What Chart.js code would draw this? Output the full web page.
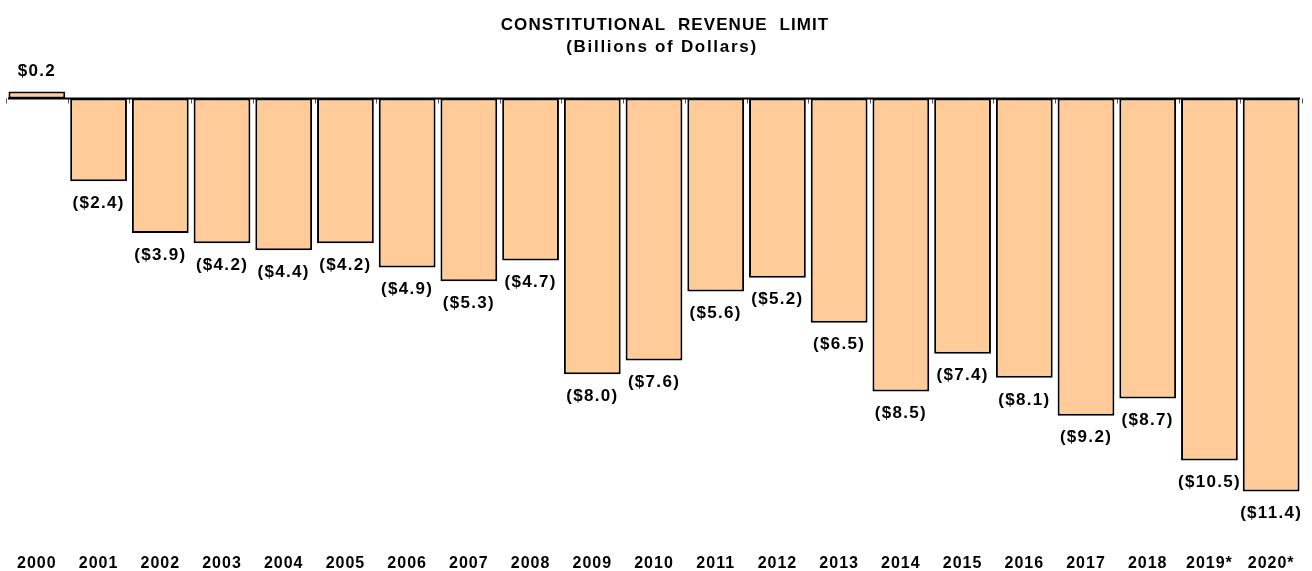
<!DOCTYPE html>
<html lang="en">
  <head>
    <meta charset="UTF-8" />
    <title>Constitutional Revenue Limit</title>
  </head>
  <style>
    * {
      margin: 0;
      padding: 0;
    }
    body {
      background: white;
    }
    .chartBox {
      width: 1312px;
      height: 571px;
    }
  </style>
  <body>
    <div class="chartBox">
      <canvas id="myChart"></canvas>
    </div>

    <script src="https://cdn.jsdelivr.net/npm/chart.js"></script>

    <script>
      // data
      const years = [
        "2000", "2001", "2002", "2003", "2004", "2005", "2006", "2007",
        "2008", "2009", "2010", "2011", "2012", "2013", "2014", "2015",
        "2016", "2017", "2018", "2019*", "2020*"
      ];
      const limitValues = [
        0.2, -2.4, -3.9, -4.2, -4.4, -4.2, -4.9, -5.3, -4.7, -8.0, -7.6,
        -5.6, -5.2, -6.5, -8.5, -7.4, -8.1, -9.2, -8.7, -10.5, -11.4
      ];
      const titleLines = ["CONSTITUTIONAL  REVENUE  LIMIT", "(Billions of Dollars)"];

      const FONT = "'Liberation Sans', Arial, sans-serif";

      const fmt = (v) =>
        v < 0 ? "($" + Math.abs(v).toFixed(1) + ")" : "$" + v.toFixed(1);

      // wider text spacing, like the original
      const spacing = {
        id: "spacing",
        beforeDraw: (chart) => {
          chart.ctx.letterSpacing = "1px";
        }
      };

      // title, zero line, small ticks and value labels
      const barLabels = {
        id: "barLabels",
        afterDatasetsDraw: (chart) => {
          const { ctx, chartArea: { left, right }, scales: { x, y } } = chart;
          const zero = y.getPixelForValue(0);
          ctx.save();

          // title
          ctx.fillStyle = "#000";
          ctx.textAlign = "center";
          ctx.textBaseline = "middle";
          ctx.font = "bold 17px " + FONT;
          ctx.letterSpacing = "1.1px";
          ctx.fillText(titleLines[0], 665, 25);
          ctx.letterSpacing = "1.7px";
          ctx.fillText(titleLines[1], 662, 47);

          // tick marks at category edges
          ctx.strokeStyle = "#555";
          ctx.lineWidth = 1;
          const step = (right - left) / years.length;
          for (let i = 0; i <= years.length; i++) {
            const px = Math.round(left + i * step) + 0.5;
            ctx.beginPath();
            ctx.moveTo(px, zero);
            ctx.lineTo(px, zero + 5);
            ctx.stroke();
          }

          // zero line
          ctx.strokeStyle = "#000";
          ctx.lineWidth = 2;
          ctx.beginPath();
          ctx.moveTo(left + 2, zero);
          ctx.lineTo(right - 2, zero);
          ctx.stroke();

          // value labels
          ctx.font = "bold 17px " + FONT;
          ctx.letterSpacing = "1.3px";
          const meta = chart.getDatasetMeta(0);
          meta.data.forEach((bar, i) => {
            const v = limitValues[i];
            const yy = v < 0 ? bar.y + 22 : bar.y - 20;
            ctx.fillText(fmt(v), bar.x, yy);
          });
          ctx.restore();
        }
      };

      const data = {
        labels: years,
        datasets: [
          {
            label: "Constitutional Revenue Limit",
            data: limitValues,
            backgroundColor: "#FFCC99",
            borderColor: "#000",
            borderWidth: 2,
            borderSkipped: false,
            barPercentage: 0.92,
            categoryPercentage: 1
          }
        ]
      };

      const config = {
        type: "bar",
        data,
        options: {
          responsive: true,
          maintainAspectRatio: false,
          animation: false,
          layout: {
            padding: { left: 6, right: 10, top: 64, bottom: -9 }
          },
          plugins: {
            legend: { display: false },
            tooltip: { enabled: false },
            title: { display: false }
          },
          scales: {
            x: {
              grid: { display: false, drawTicks: false },
              border: { display: false },
              ticks: {
                color: "#000",
                padding: 7,
                maxRotation: 0,
                autoSkip: false,
                font: { family: FONT, size: 16, weight: "bold" }
              }
            },
            y: {
              display: false,
              min: -13,
              max: 1
            }
          }
        },
        plugins: [spacing, barLabels]
      };

      const ctx = document.getElementById("myChart");
      const myChart = new Chart(ctx, config);
    </script>
  </body>
</html>
